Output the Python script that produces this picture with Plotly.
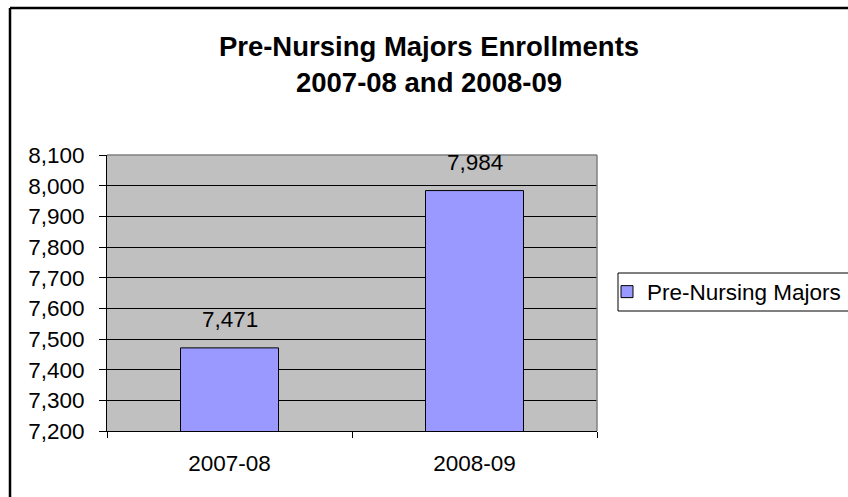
import plotly.graph_objects as go

categories = ["2007-08", "2008-09"]
values = [7471, 7984]
series_name = "Pre-Nursing Majors"
title_lines = ["Pre-Nursing Majors Enrollments", "2007-08 and 2008-09"]
y_min, y_max, y_step = 7200, 8100, 100

FONT = "Liberation Sans, Arial, sans-serif"
FS = 22.5
W, H = 848, 497
L, R, T, B = 107, 251, 155, 66
pw = W - L - R
ph = H - T - B

fig = go.Figure()
fig.add_trace(go.Bar(
    x=categories, y=values, name=series_name,
    marker=dict(color="#9999FF", line=dict(color="black", width=1)),
    showlegend=True,
))

for c, v in zip(categories, values):
    fig.add_annotation(x=c, y=v, text=f"{v:,}", showarrow=False,
                       yanchor="bottom", yshift=14,
                       font=dict(family=FONT, size=FS, color="black"))

def px_to_px(x):
    return (x - L) / pw

def py_to_py(y):
    return (H - B - y) / ph

# outer chart border (left and top visible)
bx = px_to_px(10)
by = py_to_py(8)
fig.add_shape(type="line", xref="paper", yref="paper", x0=bx, x1=bx, y0=by, y1=-1,
              line=dict(color="black", width=2.5))
fig.add_shape(type="line", xref="paper", yref="paper", x0=bx, x1=2, y0=by, y1=by,
              line=dict(color="black", width=2.5))
# plot-area border top/right grey
fig.add_shape(type="line", xref="paper", yref="paper", x0=0, x1=1, y0=1, y1=1,
              line=dict(color="#808080", width=1.5))
fig.add_shape(type="line", xref="paper", yref="paper", x0=1, x1=1, y0=0, y1=1,
              line=dict(color="#808080", width=1.5))
# legend frame
fig.add_shape(type="rect", xref="paper", yref="paper",
              x0=px_to_px(618), x1=px_to_px(900), y0=py_to_py(311), y1=py_to_py(273),
              line=dict(color="black", width=1), fillcolor="white", layer="below")

fig.update_layout(
    width=W, height=H,
    margin=dict(l=L, r=R, t=T, b=B, autoexpand=False),
    paper_bgcolor="white",
    plot_bgcolor="#C0C0C0",
    font=dict(family=FONT, size=FS, color="black"),
    title=dict(text="<b>" + "<br>".join(title_lines) + "</b>",
               x=429 / W, xanchor="center", y=1 - 56 / H, yanchor="top",
               font=dict(family=FONT, size=27.5, color="black")),
    bargap=0.6,
    showlegend=True,
    legend=dict(x=px_to_px(607), xanchor="left", y=py_to_py(292), yanchor="middle",
                borderwidth=0, bgcolor="rgba(0,0,0,0)",
                font=dict(family=FONT, size=FS, color="black"),
                itemwidth=30),
    xaxis=dict(type="category", showgrid=False, showline=True, linecolor="black", linewidth=1,
               ticks="outside", tickson="boundaries", ticklen=6, tickcolor="black",
               ticklabelstandoff=12, zeroline=False),
    yaxis=dict(range=[y_min, y_max], dtick=y_step, tick0=y_min, tickformat=",",
               showgrid=True, gridcolor="black", gridwidth=1,
               showline=True, linecolor="black", linewidth=1,
               ticks="outside", ticklen=7, tickcolor="black",
               ticklabelstandoff=10, zeroline=False),
)

fig.write_html("out.html")
